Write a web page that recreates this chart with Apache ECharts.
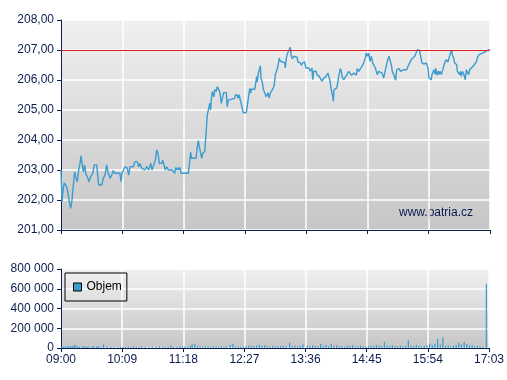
<!DOCTYPE html>
<html>
<head>
<meta charset="utf-8">
<script src="https://cdn.jsdelivr.net/npm/echarts@6/dist/echarts.min.js"></script>
<style>html,body{margin:0;padding:0;background:#fff}#c{width:507px;height:380px}</style>
</head>
<body>
<div id="c"></div>
<script>
// x values are minutes after 09:00
var timeTickLabels = ['09:00','10:09','11:18','12:27','13:36','14:45','15:54','17:03'];
var priceTicks = [201,202,203,204,205,206,207,208];
var referenceLevel = 207;
var priceMinutes = [0,1.1,2.6,3.7,4.8,6.4,7.5,9.0,10.9,12.4,13.2,14.3,15.4,16.9,18.4,19.9,21.4,22.5,24.0,25.1,26.7,27.8,29.6,31.5,33.4,35.7,37.5,40.2,41.3,42.4,45.8,47.6,49.5,51.5,53.3,55.2,57.1,58.9,60.8,66.4,67.6,68.7,70.9,72.1,74.6,76.2,77.7,81.4,83.3,85.9,87.5,88.9,90.9,92.7,94.2,96.5,98.7,101.0,102.5,104.7,106.2,107.7,109.2,110.7,113.4,114.5,116.0,117.4,119.0,120.8,122.7,125.3,128.0,129.1,130.9,132.1,133.2,134.3,135.1,143.3,144.1,146.0,147.1,152.0,153.5,154.6,155.7,157.3,158.4,159.5,161.8,163.3,164.7,166.1,167.4,168.5,169.2,170.3,171.5,172.3,173.0,174.8,176.0,177.5,178.7,179.8,180.5,181.6,183.2,186.1,187.2,188.4,189.1,195.6,196.2,198.5,199.3,200.7,202.3,203.8,205.2,208.6,209.4,211.3,212.5,213.6,214.2,218.1,219.2,220.3,221.0,222.1,223.3,224.4,225.2,226.6,227.8,229.7,231.1,231.9,233.1,234.5,235.7,237.6,239.0,240.1,241.3,243.2,244.3,245.8,246.9,248.0,249.6,251.9,252.5,253.7,255.2,256.4,257.0,258.2,259.3,260.4,262.0,263.8,265.7,266.8,269.4,270.5,272.1,274.4,275.8,277.3,278.9,280.7,281.8,282.6,283.4,284.5,285.6,287.1,288.2,289.4,290.8,292.4,293.9,295.0,296.1,298.4,300.6,302.9,304.3,305.9,306.6,307.4,308.8,310.4,311.9,313.0,314.5,315.6,316.4,318.3,320.1,322.0,323.9,325.7,326.8,328.4,329.9,331.3,332.5,333.6,335.2,337.4,338.9,340.8,342.6,343.7,345.3,346.4,347.9,349.4,350.9,352.4,353.9,355.0,356.1,357.7,359.5,361.4,363.3,364.4,366.2,368.2,369.3,370.7,371.9,373.0,374.6,375.7,376.8,377.9,379.4,380.9,382.0,383.1,383.9,385.4,386.9,389.2,390.7,392.6,394.4,396.3,398.2,400.0,401.1,403.4,405.0,406.4,407.6,408.7,411.3,412.4,413.2,414.3,415.1,416.9,417.7,418.8,419.9,421.1,421.9,423.0,424.5,425.6,426.7,428.2,430.1,432.0,433.8,435.7,436.8,438.7,439.9,440.5,442.1,443.2,444.4,445.5,446.2,447.7,448.9,449.6,450.7,451.8,453.7,455.2,456.3,457.5,459.0,460.1,462.0,463.9,465.8,467.6,468.7,470.3,473.2,477.0,480.7,483.0];
var priceValues = [203.00,201.94,202.40,202.57,202.61,202.44,202.28,202.00,201.72,202.00,202.28,202.61,202.94,202.72,202.61,203.00,203.22,203.47,203.17,202.94,203.17,202.89,202.78,202.61,202.78,202.89,203.17,203.17,202.83,202.50,202.50,202.72,202.83,203.17,202.89,202.72,202.83,202.98,202.89,202.89,202.61,202.89,202.83,203.11,203.06,202.83,203.11,203.11,203.28,203.28,203.11,203.22,203.06,203.11,203.00,203.11,203.00,203.22,203.00,203.00,203.33,203.67,203.56,203.22,203.22,203.33,203.17,203.00,203.11,203.00,203.06,203.00,202.89,203.08,203.00,203.08,203.00,203.08,202.89,202.89,203.08,203.59,203.39,203.39,203.78,203.98,203.78,203.72,203.39,203.56,203.61,204.22,204.83,204.83,205.22,205.00,205.33,205.61,205.67,205.44,205.69,205.61,205.78,205.78,205.61,205.39,205.22,205.39,205.58,205.58,205.11,205.33,205.39,205.39,205.50,205.50,205.39,205.50,205.28,205.22,204.91,204.91,205.06,205.11,205.72,205.56,205.69,205.69,205.89,206.11,205.94,206.22,206.17,206.47,206.06,205.94,205.69,205.69,205.44,205.40,205.57,205.40,205.57,205.51,205.73,205.84,206.18,206.20,206.46,206.73,206.63,206.57,206.60,206.57,206.40,206.73,206.90,206.96,206.87,207.09,206.79,206.71,206.79,206.73,206.76,206.60,206.57,206.49,206.57,206.60,206.40,206.34,206.40,206.29,206.29,206.40,206.01,206.29,206.23,206.29,206.18,206.23,206.12,206.09,205.96,205.90,206.07,206.12,206.23,205.96,205.68,205.46,205.29,205.68,205.68,205.73,205.96,206.18,206.38,206.29,206.12,206.01,206.07,206.18,206.29,206.29,206.16,206.12,206.23,206.18,206.16,206.38,206.29,206.34,206.46,206.57,206.73,206.90,206.79,206.90,206.62,206.79,206.57,206.62,206.40,206.29,206.18,206.29,206.23,206.23,206.07,206.23,206.46,206.71,206.79,206.63,206.51,206.29,206.18,206.12,205.99,206.34,206.29,206.38,206.29,206.34,206.23,206.34,206.29,206.34,206.46,206.51,206.68,206.62,206.79,206.84,207.00,207.00,206.79,206.57,206.60,206.53,206.57,206.51,206.40,206.07,206.01,206.01,206.18,206.12,206.34,206.20,206.40,206.16,206.29,206.18,206.29,206.18,206.23,206.57,206.68,206.60,206.73,206.93,207.00,206.84,206.73,206.57,206.60,206.51,206.29,206.34,206.18,206.29,206.12,206.29,206.18,206.01,206.34,206.29,206.18,206.34,206.29,206.46,206.51,206.60,206.73,206.84,206.88,206.93,207.00,207.00];
var volumeMinutes = [1,3,5,7,9,11,13,15,17,19,21,24,26,28,30,32,35,37,40,42,45,48,52,56,60,64,67,70,73,76,79,82,85,88,91,95,99,103,107,111,115,118,121,124,127,131,134,137,140,143,146,148,151,154,157,160,163,166,169,172,175,178,181,184,187,191,194,197,200,203,206,209,212,215,218,221,224,227,230,233,236,239,242,245,248,251,254,258,261,264,267,270,273,278,281,284,287,290,293,296,299,302,305,308,311,314,317,320,323,326,329,332,335,338,341,344,347,350,353,356,359,362,365,368,371,374,377,380,383,386,389,392,395,398,401,404,407,410,413,416,419,422,425,428,431,434,437,440,443,446,449,452,455,458,461,464,467,470,473,476,480];
var volumeValues = [12000,15000,13000,18000,14000,20000,16000,33000,24000,15000,12000,18000,14000,16000,11000,15000,14000,17000,13000,20000,12000,37000,14000,9000,11000,8000,12000,13000,9000,12000,10000,15000,11000,9000,14000,10000,8000,12000,10000,16000,12000,9000,13000,27000,11000,10000,14000,18000,15000,12000,20000,38000,42000,17000,14000,12000,18000,15000,11000,16000,13000,10000,17000,12000,15000,30000,43000,13000,16000,12000,10000,18000,28000,22000,17000,25000,30000,20000,28000,16000,13000,22000,17000,14000,19000,21000,16000,53000,18000,25000,14000,20000,38000,22000,17000,28000,20000,15000,42000,18000,30000,14000,40000,20000,26000,15000,18000,12000,22000,19000,28000,16000,14000,24000,18000,12000,15000,22000,18000,30000,25000,20000,63000,22000,18000,28000,20000,15000,24000,16000,20000,77000,25000,18000,30000,22000,16000,20000,28000,45000,30000,40000,90000,35000,107000,20000,28000,16000,22000,30000,52000,35000,62000,40000,25000,30000,18000,22000,15000,12000,650000];
var volumeTicks = [0,200000,400000,600000,800000];

var navy = '#0b1d4e';
var bgGrad = {type:'linear',x:0,y:0,x2:0,y2:1,colorStops:[{offset:0,color:'#f0f0f0'},{offset:1,color:'#c6c6c6'}]};
var pricePairs = priceMinutes.map(function(m,i){return [m, priceValues[i]];});
var volumePairs = volumeMinutes.map(function(m,i){return [m, volumeValues[i]];});
function fmtTime(v){ return timeTickLabels[Math.round(v/69)] || ''; }
function fmtPrice(v){ return v.toFixed(2).replace('.', ','); }
function fmtVol(v){ return String(v).replace(/\B(?=(\d{3})+(?!\d))/g, ' '); }
var axisTxt = {color: navy, fontFamily: 'Liberation Sans, Arial, sans-serif', fontSize: 12};
var split = {show:true, lineStyle:{color:'#ffffff', width:1.5}};

var chart = echarts.init(document.getElementById('c'), null, {renderer:'canvas'});
chart.setOption({
  animation: false,
  backgroundColor: '#ffffff',
  grid: [
    {left:61, right:17, top:20, height:210, show:true, backgroundColor:bgGrad, borderWidth:0},
    {left:61, right:17, top:269, height:79, show:true, backgroundColor:bgGrad, borderWidth:0}
  ],
  xAxis: [
    {type:'value', gridIndex:0, min:0, max:483, interval:69,
     axisLine:{show:true, lineStyle:{color:navy, width:1}},
     axisTick:{show:true, length:4, lineStyle:{color:navy}},
     axisLabel:{show:false}, splitLine:split},
    {type:'value', gridIndex:1, min:0, max:483, interval:69,
     axisLine:{show:true, lineStyle:{color:navy, width:1}},
     axisTick:{show:true, length:4, lineStyle:{color:navy}},
     axisLabel:Object.assign({margin:6, formatter:fmtTime}, axisTxt), splitLine:split}
  ],
  yAxis: [
    {type:'value', gridIndex:0, min:priceTicks[0], max:priceTicks[priceTicks.length-1], interval:1,
     axisLine:{show:true, lineStyle:{color:navy, width:1}},
     axisTick:{show:true, length:4, lineStyle:{color:navy}},
     axisLabel:Object.assign({margin:7, formatter:fmtPrice}, axisTxt), splitLine:split},
    {type:'value', gridIndex:1, min:volumeTicks[0], max:volumeTicks[volumeTicks.length-1], interval:200000,
     axisLine:{show:true, lineStyle:{color:navy, width:1}},
     axisTick:{show:true, length:4, lineStyle:{color:navy}},
     axisLabel:Object.assign({margin:7, formatter:fmtVol}, axisTxt), splitLine:split}
  ],
  legend: {
    data:['Objem'], left:65, top:273, orient:'vertical',
    borderColor:'#000', borderWidth:1, borderRadius:0, padding:[8,5,8,8],
    itemWidth:8, itemHeight:8, icon:'rect',
    itemStyle:{borderColor:'#000', borderWidth:1},
    textStyle:{color:'#000', fontSize:12, fontFamily:'Liberation Sans, Arial, sans-serif'}
  },
  graphic: [
    {type:'text', right:34, top:207, style:{text:'www.patria.cz', fill:navy, font:'12px "Liberation Sans", Arial, sans-serif'}}
  ],
  series: [
    {name:'Cena', type:'line', xAxisIndex:0, yAxisIndex:0, data:pricePairs, showSymbol:false, symbol:'none',
     lineStyle:{color:'#3a9ccf', width:1.4}, z:3,
     markLine:{silent:true, symbol:'none', label:{show:false}, lineStyle:{color:'#e02020', width:1, type:'solid'},
       data:[{yAxis:referenceLevel}]}},
    {name:'Objem', type:'bar', xAxisIndex:1, yAxisIndex:1, data:volumePairs, barWidth:1.2,
     itemStyle:{color:'#3a9ccf'}}
  ]
});
</script>
</body>
</html>
